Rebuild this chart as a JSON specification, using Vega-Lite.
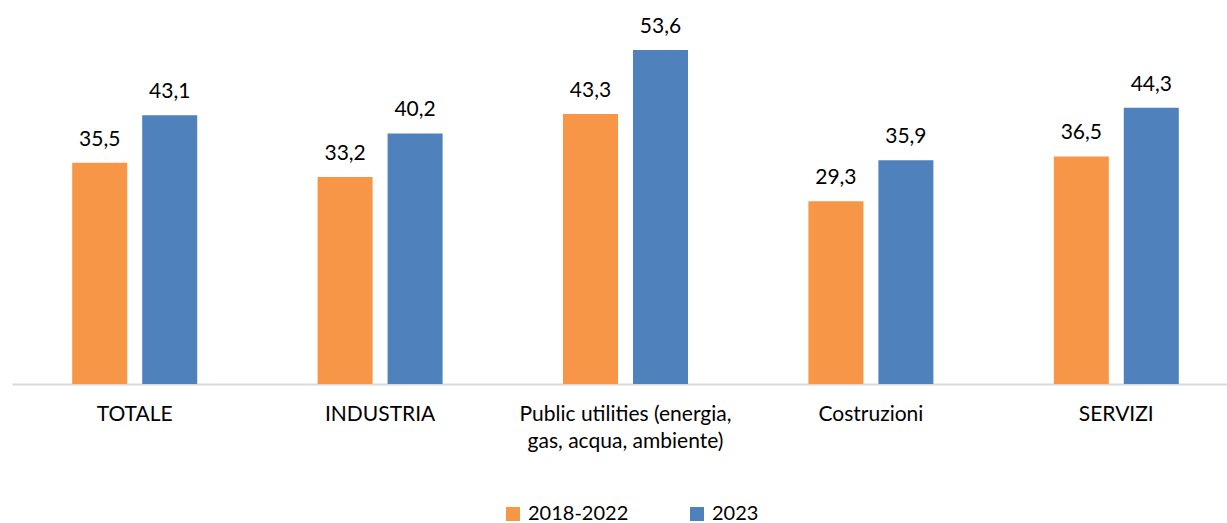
{
  "$schema": "https://vega.github.io/schema/vega-lite/v6.json",
  "autosize": "none",
  "width": 1227,
  "height": 374,
  "padding": {"left": 12, "top": 10, "right": 0, "bottom": 139},
  "background": "white",
  "config": {
    "locale": {"number": {"decimal": ",", "thousands": ".", "grouping": [3], "currency": ["€", ""]}},
    "font": "Lato",
    "view": {"stroke": null}
  },
  "data": {
    "values": [
      {"settore": "TOTALE", "periodo": "2018-2022", "valore": 35.5},
      {"settore": "TOTALE", "periodo": "2023", "valore": 43.1},
      {"settore": "INDUSTRIA", "periodo": "2018-2022", "valore": 33.2},
      {"settore": "INDUSTRIA", "periodo": "2023", "valore": 40.2},
      {"settore": "Public utilities (energia,\ngas, acqua, ambiente)", "periodo": "2018-2022", "valore": 43.3},
      {"settore": "Public utilities (energia,\ngas, acqua, ambiente)", "periodo": "2023", "valore": 53.6},
      {"settore": "Costruzioni", "periodo": "2018-2022", "valore": 29.3},
      {"settore": "Costruzioni", "periodo": "2023", "valore": 35.9},
      {"settore": "SERVIZI", "periodo": "2018-2022", "valore": 36.5},
      {"settore": "SERVIZI", "periodo": "2023", "valore": 44.3}
    ]
  },
  "encoding": {
    "x": {
      "field": "settore", "type": "nominal", "sort": null,
      "scale": {"range": [0, 1227], "paddingInner": 0, "paddingOuter": 0},
      "axis": {
        "title": null, "labelAngle": 0, "ticks": false,
        "domainColor": "#d9d9d9", "domainWidth": 2,
        "labelFontSize": 21, "labelColor": "#000000", "labelPadding": 19,
        "labelLineHeight": 27, "labelFont": "Lato", "labelLimit": 0,
        "labelExpr": "split(datum.label, '\\n')"
      }
    },
    "xOffset": {
      "field": "periodo", "type": "nominal",
      "scale": {"paddingInner": 0.214, "paddingOuter": 0.86}
    },
    "y": {
      "field": "valore", "type": "quantitative",
      "scale": {"domain": [0, 60]},
      "axis": null
    }
  },
  "layer": [
    {
      "mark": {"type": "bar"},
      "encoding": {
        "color": {
          "field": "periodo", "type": "nominal",
          "scale": {"domain": ["2018-2022", "2023"], "range": ["#F79646", "#4F81BD"]},
          "legend": {
            "title": null, "orient": "none", "direction": "horizontal",
            "legendX": 491, "legendY": 494,
            "symbolType": "square", "symbolSize": 196, "symbolStrokeWidth": 0,
            "labelFontSize": 20, "labelColor": "#000000", "labelFont": "Lato",
            "columnPadding": 58, "labelOffset": 5
          }
        }
      }
    },
    {
      "mark": {"type": "text", "baseline": "alphabetic", "dy": -17, "fontSize": 21, "color": "#000000", "font": "Lato"},
      "encoding": {
        "text": {"field": "valore", "type": "quantitative", "format": ".1f"}
      }
    }
  ]
}
